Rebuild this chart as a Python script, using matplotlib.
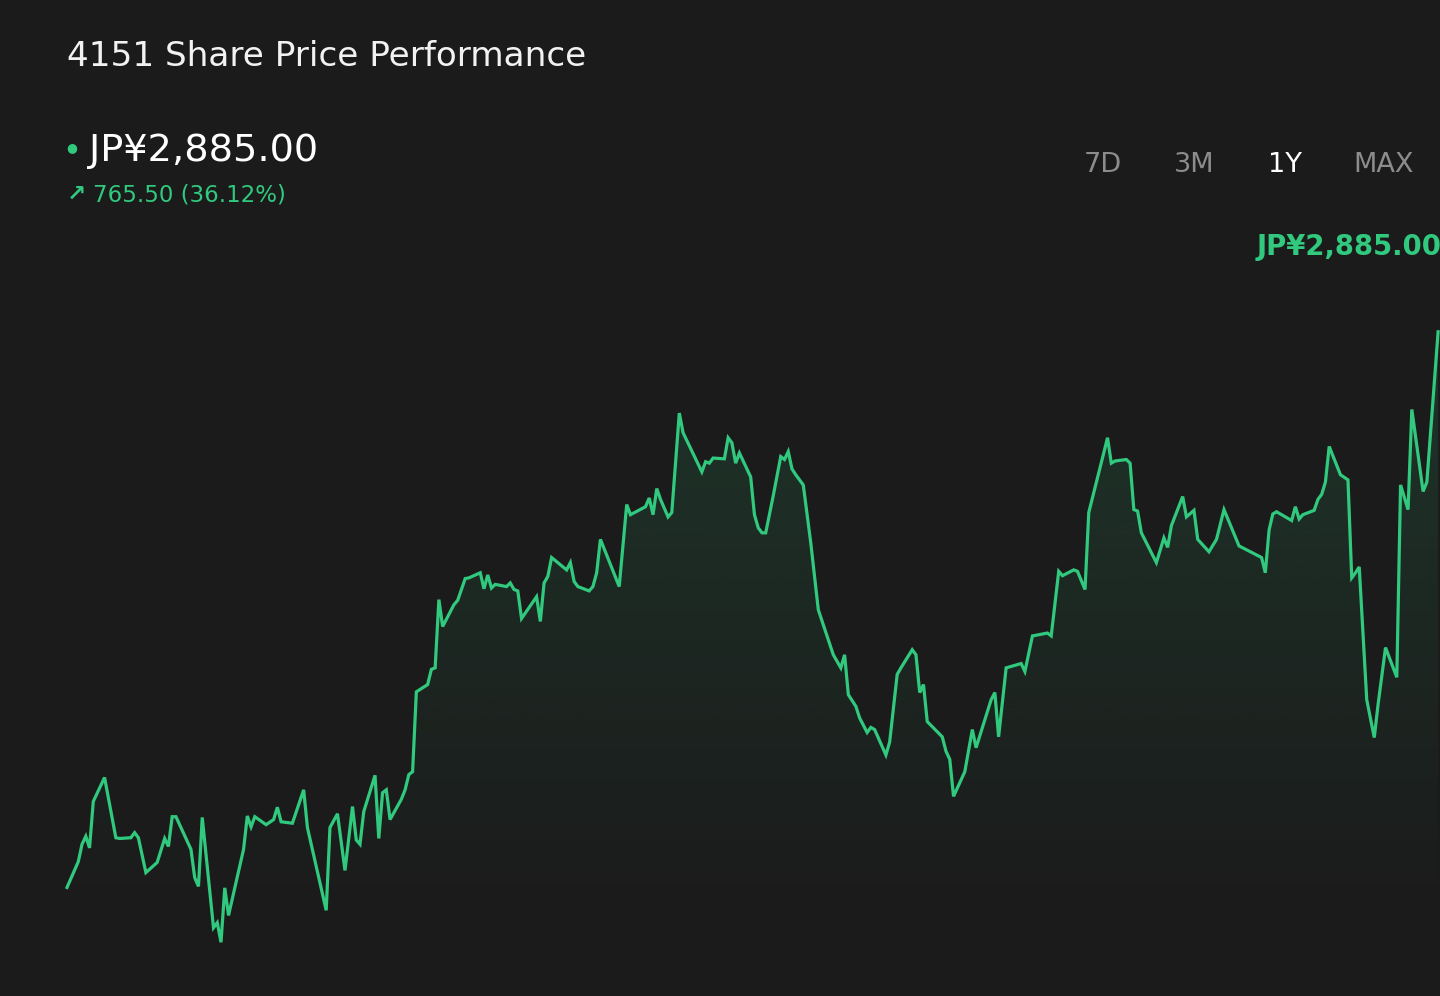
import numpy as np
import matplotlib
matplotlib.use('Agg')
import matplotlib.pyplot as plt
from matplotlib.colors import to_rgb

# days since start of the 1Y window, closing price (JPY)
days = [0, 3, 4, 5, 6, 7, 10, 13, 14, 17, 18, 19, 21, 24, 26, 27, 28, 29, 33, 34,
        35, 36, 39, 40, 41, 42, 43, 47, 48, 49, 50, 53, 55, 56, 57, 60, 63, 64, 69, 70,
        72, 74, 76, 77, 78, 79, 82, 83, 84, 85, 86, 89, 90, 91, 92, 93, 96, 97, 98, 99,
        100, 103, 104, 106, 107, 110, 111, 112, 113, 114, 117, 118, 119, 120, 121, 125, 126, 127, 128, 129,
        133, 134, 135, 136, 139, 140, 141, 142, 147, 149, 150, 154, 155, 156, 157, 158, 160, 161, 163, 164,
        169, 170, 171, 172, 175, 176, 177, 178, 179, 182, 183, 184, 185, 186, 188, 190, 191, 192, 193, 194,
        196, 198, 200, 204, 206, 207, 208, 210, 211, 213, 214, 215, 218, 219, 221, 222, 225, 226, 227, 228,
        229, 233, 234, 235, 236, 239, 241, 242, 246, 247, 248, 250, 254, 255, 257, 261, 262, 264, 265, 268,
        269, 271, 272, 277, 278, 279, 282, 283, 284, 285, 286, 290, 292, 293, 294, 297, 298, 300, 301, 304,
        306, 308, 312, 318, 319, 320, 321, 322, 326, 327, 328, 329, 332, 333, 334, 335, 336, 339, 341, 342,
        343, 344, 346, 348, 349, 351, 354, 355, 357, 358, 361, 362, 365]
prices = [2119.5, 2155, 2179, 2190, 2174, 2238, 2271, 2188, 2187, 2188,
          2195, 2188, 2140, 2154, 2187, 2176, 2217, 2217, 2172, 2133,
          2121, 2216, 2064, 2071, 2044, 2119, 2081, 2172, 2218, 2203,
          2217, 2206, 2213, 2230, 2210, 2208, 2254, 2202, 2088, 2202,
          2221, 2143, 2231, 2185, 2179, 2224, 2274, 2187, 2250, 2254,
          2213, 2241, 2254, 2275, 2279, 2389, 2399, 2420, 2422, 2516,
          2479, 2509, 2515, 2545, 2546, 2553, 2531, 2550, 2532, 2537,
          2534, 2539, 2530, 2528, 2490, 2520, 2486, 2539, 2548, 2574,
          2557, 2567, 2541, 2534, 2528, 2534, 2553, 2599, 2534, 2647,
          2633, 2644, 2656, 2633, 2669, 2654, 2630, 2636, 2773, 2746,
          2692, 2706, 2704, 2711, 2710, 2739, 2732, 2704, 2718, 2685,
          2633, 2615, 2608, 2608, 2659, 2713, 2709, 2720, 2696, 2688,
          2674, 2594, 2502, 2440, 2422, 2440, 2385, 2369, 2353, 2333,
          2340, 2337, 2302, 2320, 2413, 2422, 2447, 2440, 2388, 2399,
          2348, 2327, 2307, 2296, 2245, 2279, 2337, 2312, 2378, 2388,
          2327, 2422, 2428, 2417, 2466, 2470, 2466, 2555, 2549, 2557,
          2555, 2530, 2636, 2739, 2704, 2707, 2709, 2704, 2640, 2638,
          2608, 2567, 2601, 2588, 2618, 2658, 2630, 2639, 2599, 2582,
          2599, 2640, 2590, 2574, 2553, 2612, 2634, 2637, 2625, 2644,
          2627, 2633, 2639, 2654, 2661, 2678, 2727, 2688, 2681, 2546,
          2553, 2561, 2378, 2326, 2371, 2450, 2409, 2674, 2640, 2778,
          2665, 2678, 2885]

ticker = '4151'
last_price = prices[-1]
change = last_price - prices[0]
pct = change / prices[0] * 100
ranges = ['7D', '3M', '1Y', 'MAX']
active_range = '1Y'

bg = '#1b1b1b'
green = '#31c97e'

W, H = 1440, 996
fig = plt.figure(figsize=(W / 100, H / 100), dpi=100, facecolor=bg)

def fx(px):
    return px / W

def fy(py):
    return 1 - py / H

# plot area: full height, starting at x=67
ax = fig.add_axes([fx(67), 0, 1 - fx(67), 1])
ax.set_facecolor(bg)
ax.axis('off')

x = np.array(days)
y = np.array(prices)

# gradient fill under the line, clipped to the area polygon
poly = ax.fill_between(x, y, 1970, color='none', lw=0)
grad = np.zeros((256, 1, 4))
grad[:, 0, :3] = to_rgb(green)
top = y.max()
bot = 2080
levels = np.linspace(top, 1970, 256)
grad[:, 0, 3] = np.clip((levels - bot) / (top - bot), 0, 1) * 0.15
img = ax.imshow(grad, extent=[0, 365.5, 1970, top], aspect='auto',
                origin='upper', zorder=1, interpolation='bicubic')
img.set_clip_path(poly.get_paths()[0], transform=ax.transData)
ax.set_xlim(0, 365.5)
ax.set_ylim(1970, 3342)

ax.plot(x, y, color=green, lw=2.3, zorder=3, solid_joinstyle='miter', clip_on=False)

# header texts
fig.text(fx(67), fy(66), f'{ticker} Share Price Performance', color='#f2f2f2',
         fontsize=24.7, va='baseline', ha='left')
fig.text(fx(72), fy(148), '●', color=green, fontsize=9, va='center', ha='center')
fig.text(fx(89), fy(161), f'JP¥{last_price:,.2f}', color='white',
         fontsize=27.5, va='baseline', ha='left')
fig.text(fx(67), fy(201), '↗', color=green, fontsize=16.5, fontweight='bold',
         va='baseline', ha='left')
fig.text(fx(93), fy(201), f'{change:,.2f} ({pct:.2f}%)', color=green,
         fontsize=16.5, va='baseline', ha='left')

btn_x = [1103, 1194, 1285, 1384]
for lab, bx in zip(ranges, btn_x):
    col = 'white' if lab == active_range else '#8c8c8c'
    fig.text(fx(bx), fy(172), lab, color=col, fontsize=19.5, va='baseline', ha='center')

fig.text(fx(1442), fy(255), f'JP¥{last_price:,.2f}', color=green, fontsize=19.8,
         fontweight='bold', va='baseline', ha='right')

fig.savefig('out.png', dpi=100, facecolor=bg)
